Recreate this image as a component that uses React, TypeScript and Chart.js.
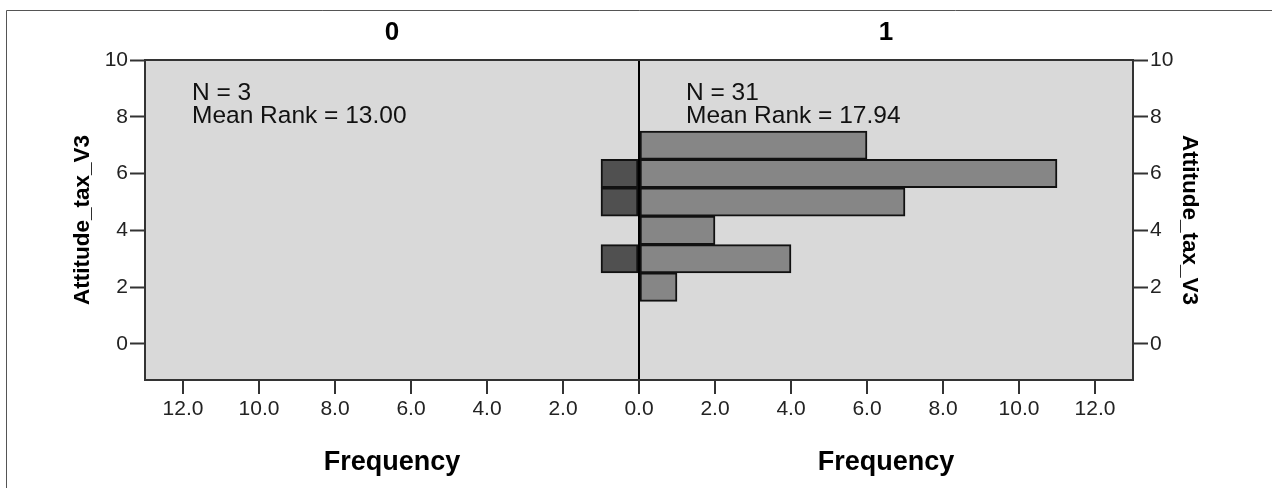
import React, { useEffect, useRef } from 'react';
import { Chart, registerables } from 'chart.js';

Chart.register(...registerables);

// Attitude_tax_V3 values (bins) and frequencies per group
const categories = [2, 3, 4, 5, 6, 7];
const group0Freq = [0, 1, 0, 1, 1, 0];
const group1Freq = [1, 4, 2, 7, 11, 6];
const groupLabels = ['0', '1'];
const groupN = [3, 31];
const meanRanks = ['13.00', '17.94'];
const xTickValues = [-12, -10, -8, -6, -4, -2, 0, 2, 4, 6, 8, 10, 12];
const yTickValues = [0, 2, 4, 6, 8, 10];
const yTitle = 'Attitude_tax_V3';
const xTitle = 'Frequency';

const FONT = "'Liberation Sans', Arial, sans-serif";

const decorPlugin = {
  id: 'decor',
  beforeDraw(chart: any) {
    const { ctx, chartArea: a, width, height } = chart;
    ctx.save();
    ctx.fillStyle = '#ffffff';
    ctx.fillRect(0, 0, width, height);
    ctx.strokeStyle = '#555555';
    ctx.lineWidth = 1;
    ctx.beginPath();
    ctx.moveTo(6.5, height);
    ctx.lineTo(6.5, 10.5);
    ctx.lineTo(width, 10.5);
    ctx.stroke();
    ctx.fillStyle = '#d9d9d9';
    ctx.fillRect(a.left, a.top, a.right - a.left, a.bottom - a.top);
    ctx.restore();
  },
  afterDraw(chart: any) {
    const { ctx, chartArea: a } = chart;
    const xs = chart.scales.x;
    const mid = xs.getPixelForValue(0);
    ctx.save();
    ctx.strokeStyle = '#333333';
    ctx.lineWidth = 2;
    ctx.beginPath();
    ctx.moveTo(a.left - 1, a.top);
    ctx.lineTo(a.right + 1, a.top);
    ctx.stroke();

    const halves = [
      [a.left, mid],
      [mid, a.right],
    ];
    ctx.fillStyle = '#000000';
    ctx.textAlign = 'center';
    ctx.textBaseline = 'middle';
    halves.forEach(([l, r], i) => {
      const c = (l + r) / 2;
      ctx.font = `bold 26px ${FONT}`;
      ctx.fillText(groupLabels[i], c, 33);
      ctx.font = `bold 27px ${FONT}`;
      ctx.fillText(xTitle, c, 463);
    });

    ctx.textAlign = 'left';
    ctx.textBaseline = 'alphabetic';
    ctx.font = `24.5px ${FONT}`;
    ctx.fillStyle = '#111111';
    halves.forEach(([l], i) => {
      const x = l + 47;
      ctx.fillText(`N = ${groupN[i]}`, x, 100);
      ctx.fillText(`Mean Rank = ${meanRanks[i]}`, x, 123);
    });
    ctx.restore();
  },
};

export default function App() {
  const ref = useRef<HTMLCanvasElement | null>(null);

  useEffect(() => {
    document.body.style.margin = '0';
    const canvas = ref.current;
    if (!canvas) return;

    const left = categories
      .map((c, i) => ({ x: -group0Freq[i], y: c }))
      .filter((d) => d.x !== 0);
    const right = categories
      .map((c, i) => ({ x: group1Freq[i], y: c }))
      .filter((d) => d.x !== 0);

    const yCommon = (position: 'left' | 'right', width: number) => ({
      type: 'linear' as const,
      position,
      min: -1.27,
      max: 10,
      offset: false,
      afterBuildTicks: (scale: any) => {
        scale.ticks = yTickValues.map((v) => ({ value: v }));
      },
      afterFit: (scale: any) => {
        scale.width = width;
      },
      ticks: {
        color: '#222222',
        font: { family: FONT, size: 21 },
        padding: 2,
        callback: (v: any) => String(v),
      },
      grid: {
        offset: false,
        drawOnChartArea: false,
        tickLength: 15,
        tickColor: '#333333',
        tickWidth: 2,
        color: 'rgba(0,0,0,0)',
      },
      border: { display: true, color: '#333333', width: 2 },
      title: {
        display: true,
        text: yTitle,
        color: '#000000',
        font: { family: FONT, size: 22.5, weight: 'bold' as const },
        padding: { top: 69, bottom: 0 },
      },
    });

    const chart = new Chart(canvas, {
      type: 'bar',
      data: {
        datasets: [
          {
            label: groupLabels[0],
            data: left as any,
            backgroundColor: '#505050',
            borderColor: '#111111',
            borderWidth: 2,
            borderSkipped: false,
            grouped: false,
            barPercentage: 1,
            categoryPercentage: 1,
            yAxisID: 'y',
          } as any,
          {
            label: groupLabels[1],
            data: right as any,
            backgroundColor: '#868686',
            borderColor: '#111111',
            borderWidth: 2,
            borderSkipped: false,
            grouped: false,
            barPercentage: 1,
            categoryPercentage: 1,
            yAxisID: 'y',
          } as any,
        ],
      },
      options: {
        indexAxis: 'y',
        responsive: false,
        animation: false,
        layout: { padding: { top: 60, left: 0, right: 0, bottom: 0 } },
        plugins: {
          legend: { display: false },
          tooltip: { enabled: false },
          title: { display: false },
        },
        scales: {
          x: {
            type: 'linear',
            position: 'bottom',
            min: -13,
            max: 13,
            afterBuildTicks: (scale: any) => {
              scale.ticks = xTickValues.map((v) => ({ value: v }));
            },
            afterFit: (scale: any) => {
              scale.height = 108;
            },
            ticks: {
              color: '#222222',
              font: { family: FONT, size: 21 },
              padding: 3,
              maxRotation: 0,
              autoSkip: false,
              callback: (v: any) => Math.abs(Number(v)).toFixed(1),
            },
            grid: {
              drawOnChartArea: true,
              tickLength: 14,
              tickColor: '#333333',
              tickWidth: 2,
              lineWidth: 2,
              color: (ctx: any) =>
                ctx.tick && ctx.tick.value === 0 ? '#000000' : 'rgba(0,0,0,0)',
            },
            border: { display: true, color: '#333333', width: 2 },
          },
          y: yCommon('left', 145) as any,
          y2: yCommon('right', 139) as any,
        },
      },
      plugins: [decorPlugin],
    });

    return () => chart.destroy();
  }, []);

  return <canvas ref={ref} width={1272} height={488} style={{ display: 'block' }} />;
}
